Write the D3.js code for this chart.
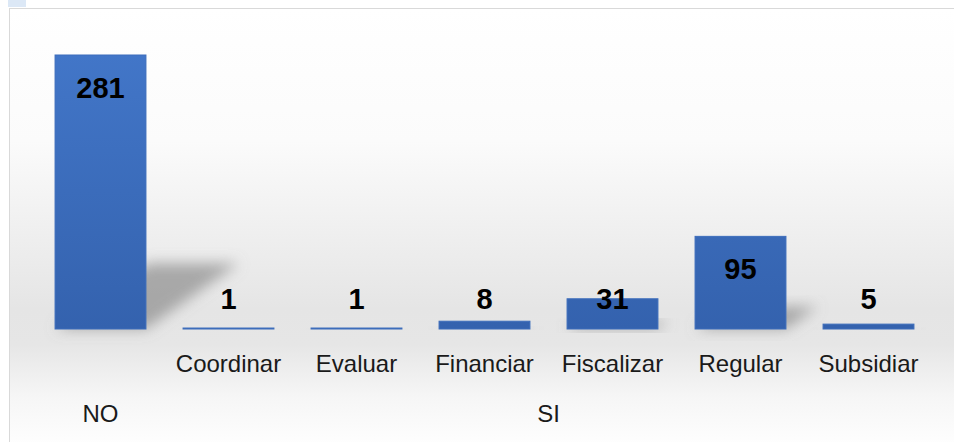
<!DOCTYPE html>
<html>
<head>
<meta charset="utf-8">
<script src="https://cdn.jsdelivr.net/npm/d3@7"></script>
<style>
  body { margin: 0; background: #fff; }
  svg { display: block; }
</style>
</head>
<body>
<svg class="chart"></svg>
<script>
const width = 954,
  height = 442;

// data
const groups = ["NO", "SI", "SI", "SI", "SI", "SI", "SI"];
const subLabels = ["", "Coordinar", "Evaluar", "Financiar", "Fiscalizar", "Regular", "Subsidiar"];
const values = [281, 1, 1, 8, 31, 95, 5];

const keys = values.map((v, i) => i);
const baseline = 329;

let chart = d3.select(".chart")
  .attr("width", width)
  .attr("height", height);

let defs = chart.append("defs");

let bg = defs.append("linearGradient")
  .attr("id", "bg")
  .attr("x1", 0).attr("y1", 0).attr("x2", 0).attr("y2", 1);
[[0, "#ffffff"], [0.3, "#fbfbfb"], [0.68, "#e5e5e5"], [0.76, "#e6e6e6"], [0.88, "#f6f6f6"], [1, "#ffffff"]]
  .forEach(s => bg.append("stop").attr("offset", s[0]).attr("stop-color", s[1]));

let barFill = defs.append("linearGradient")
  .attr("id", "barFill")
  .attr("gradientUnits", "userSpaceOnUse")
  .attr("x1", 0).attr("y1", 54).attr("x2", 0).attr("y2", baseline);
barFill.append("stop").attr("offset", 0).attr("stop-color", "#4276c8");
barFill.append("stop").attr("offset", 1).attr("stop-color", "#3462ae");

defs.append("filter")
  .attr("id", "blur")
  .attr("x", "-50%").attr("y", "-50%").attr("width", "200%").attr("height", "200%")
  .append("feGaussianBlur")
  .attr("stdDeviation", 7);

// frame
chart.append("rect")
  .attr("x", 9.5).attr("y", 8.5)
  .attr("width", width).attr("height", height)
  .attr("fill", "url(#bg)")
  .attr("stroke", "#d9d9d9");
chart.append("rect")
  .attr("x", 8).attr("y", 0)
  .attr("width", 18).attr("height", 7)
  .attr("fill", "#dce8f6");

let x = d3.scaleBand()
  .domain(keys)
  .range([36.5, 932.5])
  .paddingInner(0.29)
  .paddingOuter(0.145);

let y = d3.scaleLinear()
  .domain([0, 281])
  .range([baseline, 55]);

// perspective shadows behind the bars
chart.append("g").selectAll("path")
  .data(keys)
  .enter().append("path")
  .attr("filter", "url(#blur)")
  .attr("fill", "#858585")
  .attr("fill-opacity", 0.65)
  .attr("d", i => {
    let h = baseline - y(values[i]);
    let x0 = x(i), x1 = x(i) + x.bandwidth();
    let dx = h * 0.34, dy = h * 0.24;
    return `M${x0},${baseline}L${x1},${baseline}L${x1 + dx},${baseline - dy}L${x0 + dx},${baseline - dy}Z`;
  });

chart.append("g").selectAll("rect")
  .data(keys)
  .enter().append("rect")
  .attr("x", i => x(i))
  .attr("width", x.bandwidth())
  .attr("y", i => y(values[i]))
  .attr("height", i => baseline - y(values[i]))
  .attr("fill", "url(#barFill)")
  .attr("stroke", "#3d6dbb")
  .attr("stroke-width", 1);

chart.append("g").selectAll("text")
  .data(keys)
  .enter().append("text")
  .attr("x", i => x(i) + x.bandwidth() / 2)
  .attr("y", i => Math.min(y(values[i]) + 43, baseline - 20))
  .attr("text-anchor", "middle")
  .style("font-family", "'Liberation Sans', Arial, sans-serif")
  .style("font-weight", "bold")
  .style("font-size", "29px")
  .attr("fill", "#000")
  .text(i => values[i]);

// first level category labels
chart.append("g").selectAll("text")
  .data(keys.filter(i => subLabels[i]))
  .enter().append("text")
  .attr("x", i => x(i) + x.bandwidth() / 2)
  .attr("y", 372)
  .attr("text-anchor", "middle")
  .style("font-family", "'Liberation Sans', Arial, sans-serif")
  .style("font-size", "24px")
  .attr("fill", "#1a1a1a")
  .text(i => subLabels[i]);

// second level group labels
let groupNames = Array.from(new Set(groups));
chart.append("g").selectAll("text")
  .data(groupNames)
  .enter().append("text")
  .attr("x", g => {
    let idx = keys.filter(i => groups[i] === g);
    return (x(idx[0]) + x(idx[idx.length - 1]) + x.bandwidth()) / 2;
  })
  .attr("y", 422)
  .attr("text-anchor", "middle")
  .style("font-family", "'Liberation Sans', Arial, sans-serif")
  .style("font-size", "24px")
  .attr("fill", "#1a1a1a")
  .text(g => g);
</script>
</body>
</html>
